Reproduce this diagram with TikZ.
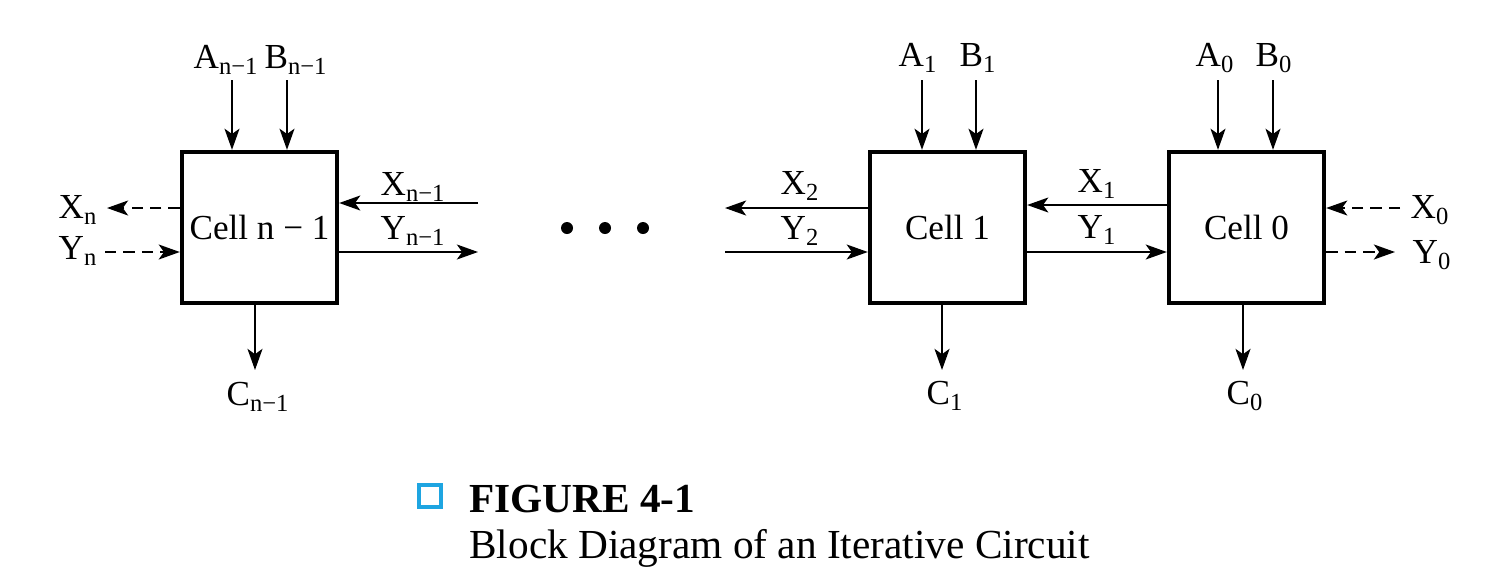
\documentclass[tikz,border=0pt]{standalone}
\usepackage{fontspec}
\setmainfont{Liberation Serif}
\usetikzlibrary{arrows.meta}
\definecolor{figblue}{RGB}{30,165,225}
\newcommand{\sig}[2]{#1\textsubscript{#2}}

\begin{document}
\begin{tikzpicture}[x=0.02cm, y=-0.02cm,
        cell/.style={draw, line width=2.5pt, minimum width=3.1cm, minimum height=3.02cm,
            inner sep=0pt, font=\fontsize{20}{24}\selectfont},
        lbl/.style={inner sep=0pt, font=\fontsize{20}{24}\selectfont},
        wire/.style={line width=1.3pt, -{Stealth[length=12pt,width=8.5pt,inset=3pt]}},
        dwire/.style={wire, dash pattern=on 6.5pt off 4pt},
        capt/.style={anchor=base west, inner sep=0pt, font=\fontsize{23.5}{28}\selectfont}]
    \useasboundingbox (0,0) rectangle (1490,579);

    % cells
    \node[cell] (celln) at (259.5,227.5) {Cell n − 1};
    \node[cell] (cell1) at (947.5,227.5) {Cell 1};
    \node[cell] (cell0) at (1246.5,227.5) {Cell 0};

    % cell n-1
    \node[lbl] (an) at (226,60) {\sig{A}{n−1}};
    \node[lbl] (bn) at (296,60) {\sig{B}{n−1}};
    \node[lbl] (cn) at (258,397) {\sig{C}{n−1}};
    \node[lbl] (xn) at (78,210) {\sig{X}{n}};
    \node[lbl] (yn) at (78,251) {\sig{Y}{n}};
    \node[lbl] (xn1) at (413,187) {\sig{X}{n−1}};
    \node[lbl] (yn1) at (413,231) {\sig{Y}{n−1}};
    \coordinate (anin) at (232,80);
    \coordinate (bnin) at (287,80);
    \coordinate (cnout) at (255,370);
    \coordinate (xnout) at (107,208);
    \coordinate (ynin) at (105,252);
    \coordinate (xn1in) at (478,203);
    \coordinate (yn1out) at (478,252);
    \draw[wire] (anin) -- (anin |- celln.north);
    \draw[wire] (bnin) -- (bnin |- celln.north);
    \draw[wire] (cnout |- celln.south) -- (cnout);
    \draw[dwire] (xnout -| celln.west) -- (xnout);
    \draw[dwire] (ynin) -- (ynin -| celln.west);
    \draw[wire] (xn1in) -- (xn1in -| celln.east);
    \draw[wire] (yn1out -| celln.east) -- (yn1out);

    % dots
    \foreach \x/\n in {567/d1, 605/d2, 643/d3}
        \fill (\x,228) circle (6) coordinate (\n);

    % cell 1
    \node[lbl] (a1) at (918,58) {\sig{A}{1}};
    \node[lbl] (b1) at (978,58) {\sig{B}{1}};
    \node[lbl] (c1) at (945,396) {\sig{C}{1}};
    \node[lbl] (x2) at (800,186) {\sig{X}{2}};
    \node[lbl] (y2) at (800,231) {\sig{Y}{2}};
    \node[lbl] (x1) at (1097,184) {\sig{X}{1}};
    \node[lbl] (y1) at (1097,230) {\sig{Y}{1}};
    \coordinate (a1in) at (922,80);
    \coordinate (b1in) at (976,80);
    \coordinate (c1out) at (942,370);
    \coordinate (x2out) at (725,208);
    \coordinate (y2in) at (725,252);
    \coordinate (x1in) at (1168,205);
    \coordinate (y1out) at (1025,252);
    \draw[wire] (a1in) -- (a1in |- cell1.north);
    \draw[wire] (b1in) -- (b1in |- cell1.north);
    \draw[wire] (c1out |- cell1.south) -- (c1out);
    \draw[wire] (x2out -| cell1.west) -- (x2out);
    \draw[wire] (y2in) -- (y2in -| cell1.west);
    \draw[wire] (x1in -| cell0.west) -- (x1in -| cell1.east);
    \draw[wire] (y1out -| cell1.east) -- (y1out -| cell0.west);

    % cell 0
    \node[lbl] (a0) at (1215,58) {\sig{A}{0}};
    \node[lbl] (b0) at (1274,58) {\sig{B}{0}};
    \node[lbl] (c0) at (1245,396) {\sig{C}{0}};
    \node[lbl] (x0) at (1430,210) {\sig{X}{0}};
    \node[lbl] (y0) at (1432,255) {\sig{Y}{0}};
    \coordinate (a0in) at (1218,80);
    \coordinate (b0in) at (1273,80);
    \coordinate (c0out) at (1243,370);
    \coordinate (x0in) at (1400,208);
    \coordinate (y0out) at (1395,252);
    \draw[wire] (a0in) -- (a0in |- cell0.north);
    \draw[wire] (b0in) -- (b0in |- cell0.north);
    \draw[wire] (c0out |- cell0.south) -- (c0out);
    \draw[dwire] (x0in) -- (x0in -| cell0.east);
    \draw[dwire] (y0out -| cell0.east) -- (y0out);

    % caption
    \node[draw=figblue, line width=1.8pt, minimum size=0.44cm, inner sep=0pt] (mark) at (430,496) {};
    \node[capt] (figttl) at (469,512) {\bfseries FIGURE 4-1};
    \node[capt] (figsub) at (469,558) {Block Diagram of an Iterative Circuit};
\end{tikzpicture}
\end{document}
